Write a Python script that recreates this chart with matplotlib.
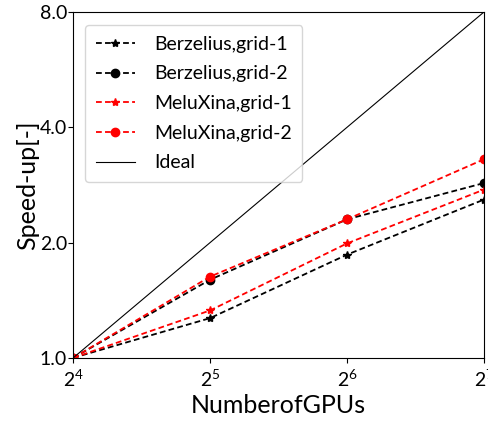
import matplotlib
matplotlib.use("Agg")
import matplotlib.pyplot as plt
from matplotlib.ticker import FixedLocator, FormatStrFormatter, NullLocator

plt.rcParams['font.family'] = ['Lato', 'DejaVu Sans']
plt.rcParams['mathtext.fontset'] = 'custom'
plt.rcParams['mathtext.rm'] = 'Lato'
plt.rcParams['mathtext.it'] = 'Lato'
plt.rcParams['mathtext.default'] = 'regular'

gpus = [16, 32, 64, 128]
berz_g1 = [1.0, 1.27, 1.86, 2.59]
berz_g2 = [1.0, 1.60, 2.30, 2.86]
melu_g1 = [1.0, 1.33, 1.99, 2.75]
melu_g2 = [1.0, 1.63, 2.30, 3.30]
ideal = [1.0, 2.0, 4.0, 8.0]
yticks = [1.0, 2.0, 4.0, 8.0]

fig = plt.figure(figsize=(4.88, 4.25), dpi=100)
ax = fig.add_axes([0.150, 0.158, 0.842, 0.814])

dash = (3.2, 1.8)
ax.plot(gpus, berz_g1, '--', dashes=dash, color='black', marker='*', markersize=6, lw=1.3, label='Berzelius,grid-1')
ax.plot(gpus, berz_g2, '--', dashes=dash, color='black', marker='o', markersize=6, lw=1.3, label='Berzelius,grid-2')
ax.plot(gpus, melu_g1, '--', dashes=dash, color='red', marker='*', markersize=6, lw=1.3, label='MeluXina,grid-1')
ax.plot(gpus, melu_g2, '--', dashes=dash, color='red', marker='o', markersize=6, lw=1.3, label='MeluXina,grid-2')
ax.plot(gpus, ideal, '-', color='black', lw=0.8, label='Ideal')

ax.set_xscale('log', base=2)
ax.set_yscale('log', base=2)
ax.set_xlim(16, 128)
ax.set_ylim(1, 8)
ax.xaxis.set_minor_locator(NullLocator())
ax.yaxis.set_major_locator(FixedLocator(yticks))
ax.yaxis.set_major_formatter(FormatStrFormatter('%.1f'))
ax.yaxis.set_minor_locator(NullLocator())
ax.tick_params(labelsize=14)
ax.tick_params(axis='y', pad=1)
ax.tick_params(axis='x', pad=4)

ax.set_xlabel('NumberofGPUs', fontsize=18, labelpad=3)
ax.set_ylabel('Speed-up[-]', fontsize=18, labelpad=0)

ax.legend(loc='upper left', fontsize=14, handlelength=2.0, borderpad=0.55,
          labelspacing=0.65, handletextpad=1.0, bbox_to_anchor=(0.005, 0.99))

fig.savefig('out.png', dpi=100)
